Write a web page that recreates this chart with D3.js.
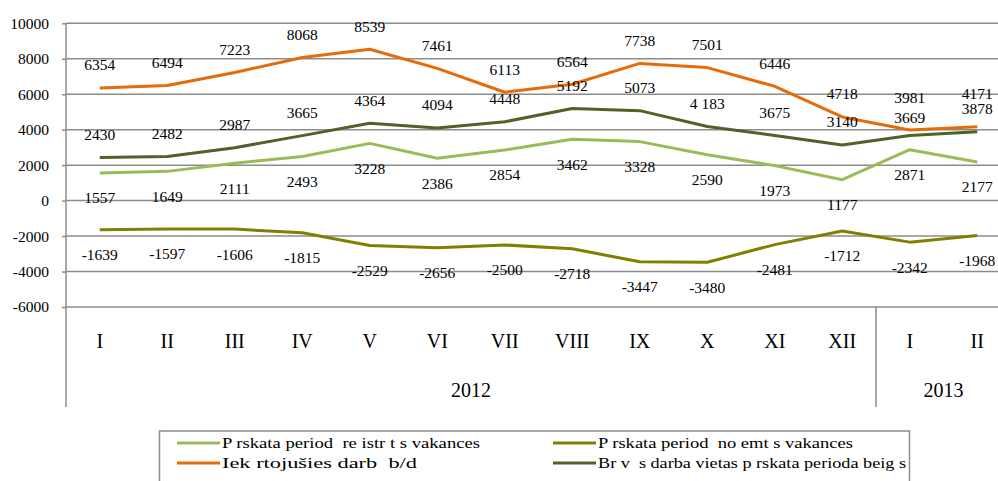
<!DOCTYPE html>
<html>
<head>
<meta charset="utf-8">
<script src="https://cdnjs.cloudflare.com/ajax/libs/d3/7.8.5/d3.min.js"></script>
<style>
  body { margin: 0; background: #fff; }
  svg { display: block; }
  svg text { font-family: "Liberation Serif", "Times New Roman", serif; fill: #000; }
</style>
</head>
<body>
<svg id="chart" width="998" height="481"></svg>
<script>
// data
var months = ["I", "II", "III", "IV", "V", "VI", "VII", "VIII", "IX", "X", "XI", "XII", "I", "II"];
var years = [{ label: "2012", count: 12 }, { label: "2013", count: 2 }];
var yTicks = [10000, 8000, 6000, 4000, 2000, 0, -2000, -4000, -6000];

var registered = [1557, 1649, 2111, 2493, 3228, 2386, 2854, 3462, 3328, 2590, 1973, 1177, 2871, 2177];
var removed = [-1639, -1597, -1606, -1815, -2529, -2656, -2500, -2718, -3447, -3480, -2481, -1712, -2342, -1968];
var employed = [6354, 6494, 7223, 8068, 8539, 7461, 6113, 6564, 7738, 7501, 6446, 4718, 3981, 4171];
var freeJobs = [2430, 2482, 2987, 3665, 4364, 4094, 4448, 5192, 5073, 4183, 3675, 3140, 3669, 3878];
var freeJobsText = ["2430", "2482", "2987", "3665", "4364", "4094", "4448", "5192", "5073", "4 183", "3675", "3140", "3669", "3878"];

var seriesNames = [
  "P rskata period  re istr t s vakances",
  "P rskata period  no emt s vakances",
  "Iek rtojušies darb  b/d",
  "Br v  s darba vietas p rskata perioda beig s"
];

var series = [
  { name: seriesNames[0], values: registered, color: "#9bbb59", above: false },
  { name: seriesNames[1], values: removed, color: "#808000", above: false },
  { name: seriesNames[2], values: employed, color: "#e46c0a", above: true },
  { name: seriesNames[3], values: freeJobs, texts: freeJobsText, color: "#4f6228", above: true }
];

// labels that were shifted to avoid each other (series index -> point index -> offset)
var labelNudge = { 2: { 12: -9, 13: -10 }, 3: { 12: 5 } };

var svg = d3.select("#chart");

// plot geometry
var plotLeft = 66, plotTop = 23.3, plotBottom = 307;
var step = 67.5;

var x = d3.scaleBand()
    .domain(d3.range(months.length))
    .range([plotLeft, plotLeft + step * months.length])
    .padding(0);

var y = d3.scaleLinear().domain([-6000, 10000]).range([plotBottom, plotTop]);

var gridColor = "#8c8c8c";

// horizontal gridlines
svg.append("g").selectAll("line")
    .data(yTicks)
    .enter().append("line")
    .attr("x1", plotLeft)
    .attr("x2", 998)
    .attr("y1", function(d) { return y(d); })
    .attr("y2", function(d) { return y(d); })
    .attr("stroke", gridColor)
    .attr("stroke-width", 1.5);

// y axis (plain hyphen for negatives, like the original)
var yAxis = svg.append("g")
    .attr("transform", "translate(" + plotLeft + ",0)")
    .call(d3.axisLeft(y).tickValues(yTicks).tickSize(4).tickPadding(13).tickFormat(function(d) { return String(d); }));
yAxis.attr("font-family", null).attr("font-size", null);
yAxis.select(".domain").remove();
yAxis.selectAll(".tick line").attr("stroke", gridColor).attr("stroke-width", 1.5);
yAxis.selectAll(".tick text")
    .attr("fill", "#000")
    .style("font-size", "15.5px");

// left axis line, running down through the category area
svg.append("line")
    .attr("x1", plotLeft).attr("x2", plotLeft)
    .attr("y1", plotTop).attr("y2", 407)
    .attr("stroke", gridColor)
    .attr("stroke-width", 1.5);

// separator between years
var sepX = x(years[0].count);
svg.append("line")
    .attr("x1", sepX).attr("x2", sepX)
    .attr("y1", plotBottom).attr("y2", 407)
    .attr("stroke", gridColor)
    .attr("stroke-width", 1.5);

// month labels
svg.append("g").selectAll("text")
    .data(months)
    .enter().append("text")
    .attr("x", function(d, i) { return x(i) + x.bandwidth() / 2; })
    .attr("y", 341)
    .attr("dy", "0.35em")
    .attr("text-anchor", "middle")
    .style("font-size", "20px")
    .text(function(d) { return d; });

// year labels
var start = 0;
years.forEach(function(yr) {
  var cx = (x(start) + x(start + yr.count - 1) + x.bandwidth()) / 2;
  svg.append("text")
      .attr("x", cx)
      .attr("y", 390)
      .attr("dy", "0.35em")
      .attr("text-anchor", "middle")
      .style("font-size", "20px")
      .text(yr.label);
  start += yr.count;
});

// lines
var line = d3.line()
    .x(function(d, i) { return x(i) + x.bandwidth() / 2; })
    .y(function(d) { return y(d); });

series.forEach(function(s) {
  svg.append("path")
      .datum(s.values)
      .attr("d", line)
      .attr("fill", "none")
      .attr("stroke", s.color)
      .attr("stroke-width", 3)
      .attr("stroke-linejoin", "round");
});

// data labels
series.forEach(function(s, si) {
  var nudge = labelNudge[si] || {};
  svg.append("g").selectAll("text")
      .data(s.values)
      .enter().append("text")
      .attr("x", function(d, i) { return x(i) + x.bandwidth() / 2; })
      .attr("y", function(d, i) { return y(d) + (s.above ? -23 : 25) + (nudge[i] || 0); })
      .attr("dy", "0.35em")
      .attr("text-anchor", "middle")
      .style("font-size", "15.5px")
      .text(function(d, i) { return s.texts ? s.texts[i] : d; });
});

// legend
var legend = svg.append("g");
legend.append("rect")
    .attr("x", 159.5).attr("y", 431)
    .attr("width", 750).attr("height", 60)
    .attr("fill", "#fff")
    .attr("stroke", gridColor)
    .attr("stroke-width", 1.5);

var legendPos = [
  { x: 177, y: 443, w: 258 },
  { x: 553, y: 443, w: 255 },
  { x: 177, y: 463, w: 195 },
  { x: 553, y: 463, w: 308 }
];

series.forEach(function(s, i) {
  var p = legendPos[i];
  legend.append("line")
      .attr("x1", p.x).attr("x2", p.x + 43)
      .attr("y1", p.y).attr("y2", p.y)
      .attr("stroke", s.color)
      .attr("stroke-width", 3);
  legend.append("text")
      .attr("x", p.x + 45)
      .attr("y", p.y)
      .attr("dy", "0.35em")
      .attr("textLength", p.w)
      .attr("lengthAdjust", "spacingAndGlyphs")
      .style("white-space", "pre")
      .style("font-size", "15px")
      .text(s.name);
});
</script>
</body>
</html>
